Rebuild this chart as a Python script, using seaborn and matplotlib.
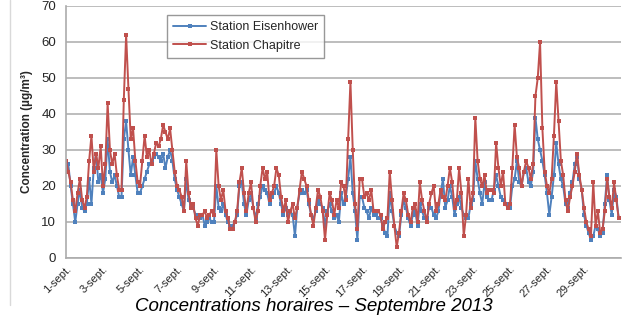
import pandas as pd
import numpy as np
import matplotlib
matplotlib.use("Agg")
import matplotlib.pyplot as plt
from matplotlib.lines import Line2D
import seaborn as sns

# --- DATA (3-hourly readings) ---
start_date = "2013-09-01"
step = "3h"

eisenhower = [
    25, 26, 20, 15, 10, 15, 19, 14,
    13, 15, 22, 15, 25, 29, 21, 23,
    18, 22, 33, 24, 21, 23, 20, 17,
    17, 33, 38, 30, 23, 28, 23, 18,
    18, 20, 22, 24, 26, 27, 28, 29,
    28, 27, 29, 25, 28, 30, 27, 22,
    19, 17, 15, 13, 22, 16, 15, 14,
    12, 11, 11, 12, 9, 10, 11, 10,
    10, 20, 14, 13, 15, 12, 10, 9,
    9, 10, 12, 20, 21, 15, 12, 16,
    18, 14, 11, 15, 17, 20, 19, 18,
    15, 17, 18, 20, 18, 15, 12, 14,
    12, 13, 12, 6, 14, 18, 19, 18,
    19, 15, 12, 11, 13, 16, 15, 14,
    9, 13, 15, 13, 11, 12, 10, 18,
    15, 17, 22, 28, 18, 13, 5, 17,
    17, 14, 13, 11, 14, 12, 12, 11,
    11, 9, 7, 6, 18, 13, 9, 7,
    6, 12, 16, 14, 11, 9, 12, 13,
    9, 15, 13, 11, 11, 14, 14, 12,
    11, 13, 18, 22, 14, 16, 20, 17,
    12, 15, 17, 14, 12, 11, 11, 15,
    16, 27, 22, 18, 15, 21, 17, 16,
    16, 19, 23, 20, 17, 16, 15, 15,
    14, 20, 22, 27, 21, 20, 24, 25,
    21, 20, 24, 39, 33, 30, 27, 23,
    18, 12, 17, 23, 32, 26, 22, 20,
    15, 14, 18, 21, 26, 28, 22, 19,
    12, 9, 7, 5, 6, 9, 8, 6,
    7, 15, 23, 16, 12, 19, 17, 11,
]

chapitre = [
    27, 24, 21, 16, 13, 18, 22, 16,
    14, 17, 27, 34, 24, 29, 25, 31,
    20, 26, 43, 30, 26, 29, 23, 19,
    19, 44, 62, 47, 33, 36, 27, 21,
    20, 27, 34, 28, 30, 26, 29, 32,
    31, 33, 37, 35, 33, 36, 30, 24,
    20, 19, 17, 13, 27, 18, 14, 15,
    11, 9, 12, 12, 13, 11, 12, 13,
    12, 30, 20, 16, 19, 13, 11, 8,
    8, 10, 13, 21, 25, 18, 13, 18,
    21, 14, 10, 13, 20, 25, 22, 24,
    16, 18, 20, 25, 23, 17, 13, 16,
    10, 13, 15, 11, 14, 19, 24, 22,
    20, 16, 12, 9, 14, 19, 17, 13,
    5, 12, 18, 16, 12, 16, 14, 21,
    20, 16, 33, 49, 30, 15, 8, 22,
    22, 17, 18, 16, 19, 13, 13, 13,
    12, 8, 10, 11, 24, 16, 9, 3,
    7, 13, 18, 16, 12, 10, 14, 15,
    10, 21, 16, 13, 10, 15, 18, 20,
    13, 15, 19, 17, 16, 20, 25, 21,
    14, 16, 25, 18, 6, 12, 22, 14,
    18, 39, 27, 22, 20, 23, 18, 19,
    19, 18, 32, 25, 20, 24, 15, 14,
    15, 25, 37, 28, 25, 20, 24, 27,
    25, 22, 26, 45, 50, 60, 36, 24,
    20, 18, 22, 34, 49, 38, 27, 23,
    16, 13, 17, 20, 24, 29, 23, 19,
    14, 10, 8, 6, 21, 9, 13, 7,
    8, 13, 22, 17, 14, 21, 16, 11,
]

series_names = ["Station Eisenhower", "Station Chapitre"]
y_ticks = [0, 10, 20, 30, 40, 50, 60, 70]
tick_days = list(range(1, 30, 2))
title = "Concentrations horaires \u2013 Septembre 2013"
y_label = "Concentration (\u00b5g/m\u00b3)"

times = pd.date_range(start_date, periods=len(chapitre), freq=step)
df = pd.DataFrame({
    "time": list(times) * 2,
    "value": eisenhower + chapitre,
    "station": [series_names[0]] * len(eisenhower) + [series_names[1]] * len(chapitre),
})

# --- STYLE ---
sns.set_style("white")
plt.rcParams["font.family"] = ["Liberation Sans", "DejaVu Sans"]

blue = "#4F81BD"
red = "#C0504D"
grid_col = "#ABABAB"

fig = plt.figure(figsize=(6.27, 3.15), dpi=100)
ax = fig.add_axes([66 / 627, 57 / 315, 555 / 627, 252 / 315])

for name, col in zip(series_names, [blue, red]):
    sub = df[df["station"] == name]
    sns.lineplot(data=sub, x="time", y="value", color=col, linewidth=1.4,
                 marker="s", markersize=2.4, markeredgewidth=0,
                 label=name, ax=ax)

ax.set_xlim(pd.Timestamp("2013-09-01"), pd.Timestamp("2013-10-01"))
ax.set_ylim(0, 70)
ax.set_yticks(y_ticks)
ax.yaxis.grid(True, color=grid_col, linewidth=1.1)
ax.set_axisbelow(True)

xt = [pd.Timestamp(2013, 9, d) for d in tick_days] + [pd.Timestamp("2013-10-01")]
ax.set_xticks(xt)
ax.set_xticklabels([f"{d}-sept." for d in tick_days] + [""], rotation=45,
                   ha="right", fontsize=8, color="#262626")
for lbl in ax.get_xticklabels():
    lbl.set_rotation_mode("anchor")
ax.tick_params(axis="x", length=4, color=grid_col, width=1.1, pad=0)
ax.tick_params(axis="y", length=3, color=grid_col, width=1.1, labelsize=9.5,
               labelcolor="#262626", pad=4)

for s in ["top", "right"]:
    ax.spines[s].set_visible(False)
for s in ["left", "bottom"]:
    ax.spines[s].set_color(grid_col)
    ax.spines[s].set_linewidth(1.2)

ax.set_xlabel("")
ax.set_ylabel(y_label, fontsize=8.5, fontweight="bold", labelpad=6)

leg = ax.legend(loc="upper left", bbox_to_anchor=(0.182, 0.964), borderaxespad=0,
                frameon=True, fancybox=False, fontsize=9, handlelength=2.6,
                handletextpad=0.3, borderpad=0.5, labelspacing=0.5)
leg.get_frame().set_edgecolor("#7F7F7F")
leg.get_frame().set_linewidth(1.0)
for h in leg.legend_handles:
    h.set_markersize(2.5)

fig.text(0.5, (315 - 298) / 315, title, ha="center", va="top",
         fontsize=13.5, style="italic", color="black")

fig.add_artist(Line2D([10 / 627, 10 / 627], [10 / 315, 1.0],
                      transform=fig.transFigure, color="#D9D9D9", linewidth=1.0))

fig.savefig("out.png", dpi=100)
plt.close(fig)
